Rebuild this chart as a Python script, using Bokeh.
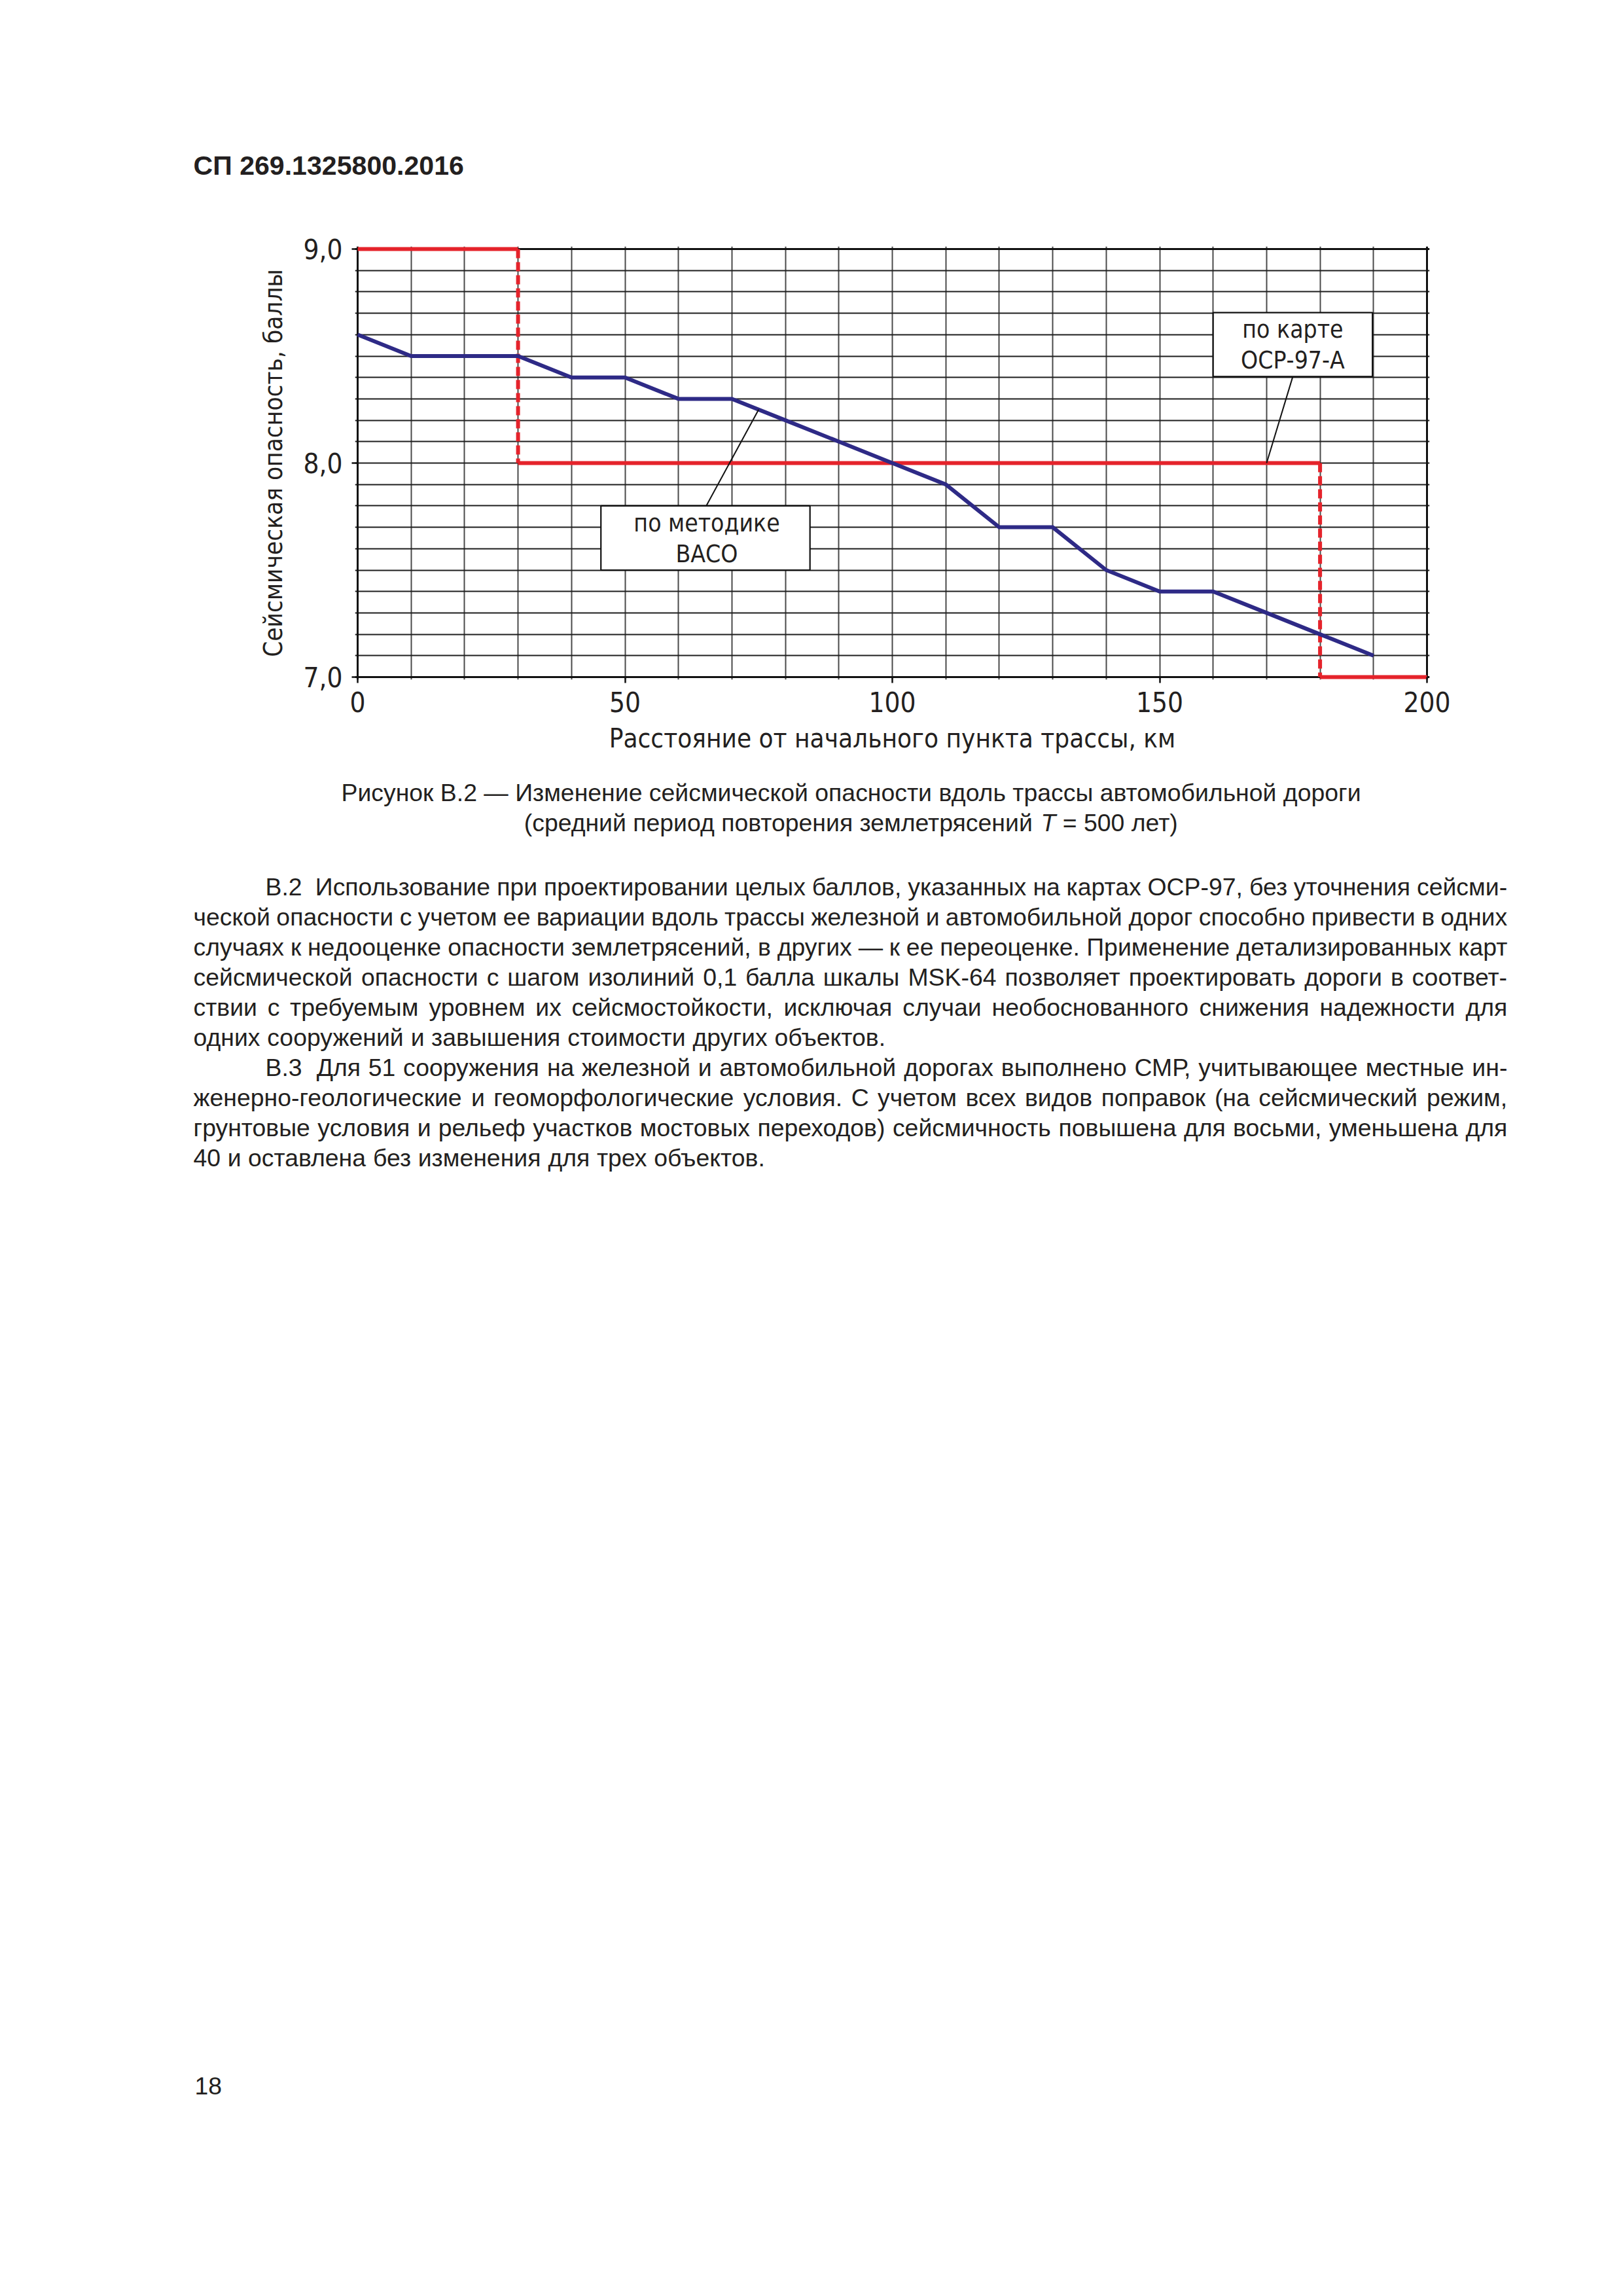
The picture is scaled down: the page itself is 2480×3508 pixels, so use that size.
import subprocess
from bokeh.plotting import figure
from bokeh.layouts import column
from bokeh.models import Range1d, FixedTicker, Grid, CustomJSTickFormatter, ColumnDataSource
from bokeh.core.properties import value
from bokeh.embed import file_html
from bokeh.resources import INLINE

# ---------------- data ----------------
distance_vaco = [0, 10, 20, 30, 40, 50, 60, 70, 80, 90, 100, 110, 120, 130, 140, 150, 160, 170, 180, 190]
hazard_vaco = [8.6, 8.5, 8.5, 8.5, 8.4, 8.4, 8.3, 8.3, 8.2, 8.1, 8.0, 7.9, 7.7, 7.7, 7.5, 7.4, 7.4, 7.3, 7.2, 7.1]
distance_ocr = [0, 30, 30, 180, 180, 200]
hazard_ocr = [9.0, 9.0, 8.0, 8.0, 7.0, 7.0]
x_ticks = [0, 50, 100, 150, 200]
y_ticks = [7.0, 8.0, 9.0]
x_grid_step = 10
y_grid_step = 0.1

x_label = "Расстояние от начального пункта трассы, км"
y_label = "Сейсмическая опасность, баллы"
vaco_label = ["по методике", "ВАСО"]
ocr_label = ["по карте", "ОСР-97-А"]

header = "СП 269.1325800.2016"
caption_1 = "Рисунок В.2 — Изменение сейсмической опасности вдоль трассы автомобильной дороги"
caption_2 = ["(средний период повторения землетрясений", "T", "= 500 лет)"]
paragraphs = [
    ["В.2  Использование при проектировании целых баллов, указанных на картах ОСР-97, без уточнения сейсми-",
     "ческой опасности с учетом ее вариации вдоль трассы железной и автомобильной дорог способно привести в одних",
     "случаях к недооценке опасности землетрясений, в других — к ее переоценке. Применение детализированных карт",
     "сейсмической опасности с шагом изолиний 0,1 балла шкалы MSK-64 позволяет проектировать дороги в соответ-",
     "ствии с требуемым уровнем их сейсмостойкости, исключая случаи необоснованного снижения надежности для",
     "одних сооружений и завышения стоимости других объектов."],
    ["В.3  Для 51 сооружения на железной и автомобильной дорогах выполнено СМР, учитывающее местные ин-",
     "женерно-геологические и геоморфологические условия. С учетом всех видов поправок (на сейсмический режим,",
     "грунтовые условия и рельеф участков мостовых переходов) сейсмичность повышена для восьми, уменьшена для",
     "40 и оставлена без изменения для трех объектов."],
]
page_number = "18"

# ---------------- fonts & measuring ----------------
def fc(pattern):
    try:
        r = subprocess.run(["fc-match", "-f", "%{file}|%{family}", pattern],
                           capture_output=True, text=True, timeout=10)
        f, fam = r.stdout.split("|", 1)
        return f, fam
    except Exception:
        return None, ""

try:
    from PIL import ImageFont
except Exception:
    ImageFont = None

def measure(s, path, size):
    if ImageFont is not None and path:
        try:
            return ImageFont.truetype(path, int(round(size * 4))).getlength(s) / 4.0
        except Exception:
            pass
    return 0.5 * size * len(s)

def fit(s, path, target, base=40.0, lo=20.0, hi=64.0):
    w = measure(s, path, base)
    if w <= 0:
        return base
    return max(lo, min(hi, base * target / w))

SANS = "Liberation Sans"
sans_path, _ = fc("Liberation Sans")
sans_b_path, _ = fc("Liberation Sans:bold")
sans_i_path, _ = fc("Liberation Sans:italic")

nar_path, nar_fam = fc("Liberation Sans Narrow")
if "Narrow" in nar_fam or (nar_path and "Narrow" in nar_path):
    NARROW = "Liberation Sans Narrow"
else:
    nar_path, nar_fam = fc("DejaVu Sans Condensed")
    if "Condensed" in nar_fam or (nar_path and "Condensed" in nar_path):
        NARROW = "DejaVu Sans Condensed"
    else:
        NARROW = SANS
        nar_path = sans_path

INK = "#231f20"

# ---------------- page geometry ----------------
PAGE_W, PAGE_H = 2480, 3508
CHART_TOP, CHART_BOTTOM = 300, 1160
FRAME_L, FRAME_R, FRAME_T, FRAME_B = 546, 2180, 380, 1034
PAD = 4
TEXT_L, TEXT_R, INDENT = 295, 2303, 405

def px(v):
    return "%.1fpx" % v

def text_fig(top, bottom):
    f = figure(width=PAGE_W, height=bottom - top, x_range=Range1d(0, PAGE_W),
               y_range=Range1d(bottom, top), toolbar_location=None, output_backend="svg",
               x_axis_type=None, y_axis_type=None, min_border=0)
    f.frame_align = False
    f.outline_line_color = None
    f.background_fill_color = "white"
    f.border_fill_color = "white"
    return f

# ---------------- header ----------------
top = text_fig(0, CHART_TOP)
hsize = fit(header, sans_b_path, 413)
top.text(x=[TEXT_L], y=[252], text=[header], text_font=value(SANS), text_font_style="bold",
         text_font_size=px(hsize), text_color=INK, text_baseline="alphabetic", text_align="left")

# ---------------- chart ----------------
x_min, x_max = x_ticks[0], x_ticks[-1]
y_min, y_max = y_ticks[0], y_ticks[-1]
pad_x = PAD * (x_max - x_min) / (FRAME_R - FRAME_L)
pad_y = PAD * (y_max - y_min) / (FRAME_B - FRAME_T)

p = figure(width=PAGE_W, height=CHART_BOTTOM - CHART_TOP,
           x_range=Range1d(x_min - pad_x, x_max + pad_x),
           y_range=Range1d(y_min - pad_y, y_max + pad_y),
           toolbar_location=None, output_backend="svg")
p.frame_align = False
p.min_border_left = FRAME_L - PAD
p.min_border_right = PAGE_W - FRAME_R - PAD
p.min_border_top = FRAME_T - PAD - CHART_TOP
p.min_border_bottom = CHART_BOTTOM - FRAME_B - PAD
p.outline_line_color = None
p.background_fill_color = "white"
p.border_fill_color = "white"

nx = int(round((x_max - x_min) / x_grid_step))
ny = int(round((y_max - y_min) / y_grid_step))
inner_x = [x_min + k * x_grid_step for k in range(1, nx)]
inner_y = [round(y_min + k * y_grid_step, 3) for k in range(1, ny)]

p.xgrid.ticker = FixedTicker(ticks=inner_x)
p.xgrid.bounds = (y_min, y_max)
p.xgrid.grid_line_color = "#4a4a4a"
p.xgrid.grid_line_width = 2
p.ygrid.ticker = FixedTicker(ticks=inner_y)
p.ygrid.bounds = (x_min, x_max)
p.ygrid.grid_line_color = "#1e1e1e"
p.ygrid.grid_line_width = 2.2
p.add_layout(Grid(dimension=0, ticker=FixedTicker(ticks=[x_min, x_max]), bounds=(y_min, y_max),
                  grid_line_color="#111111", grid_line_width=3))
p.add_layout(Grid(dimension=1, ticker=FixedTicker(ticks=[y_min, y_max]), bounds=(x_min, x_max),
                  grid_line_color="#111111", grid_line_width=3))

tick_font = px(42)
for ax in (p.xaxis[0], p.yaxis[0]):
    ax.axis_line_color = None
    ax.major_tick_in = PAD
    ax.major_tick_out = 5
    ax.major_tick_line_color = "#111111"
    ax.major_tick_line_width = 2.5
    ax.minor_tick_line_color = None
    ax.major_label_text_font = NARROW
    ax.major_label_text_font_size = tick_font
    ax.major_label_text_color = INK
    ax.axis_label_text_font = NARROW
    ax.axis_label_text_font_style = "normal"
    ax.axis_label_text_color = INK

p.xaxis.ticker = FixedTicker(ticks=x_ticks)
p.xaxis.major_label_standoff = 13
p.xaxis.axis_label = x_label
p.xaxis.axis_label_standoff = 14
p.xaxis.axis_label_text_font_size = px(fit(x_label, nar_path, 866, lo=30, hi=46))

p.yaxis.ticker = FixedTicker(ticks=y_ticks)
p.yaxis.formatter = CustomJSTickFormatter(code="return tick.toFixed(1).replace('.', ',');")
p.yaxis.major_label_standoff = 14
p.yaxis.axis_label = y_label
p.yaxis.axis_label_standoff = 20
p.yaxis.axis_label_text_font_size = px(fit(y_label, nar_path, 592, lo=30, hi=46))

# red (ОСР-97-А): horizontal parts solid, vertical jumps dashed
hx0, hx1, hy0, hy1, vx0, vx1, vy0, vy1 = [], [], [], [], [], [], [], []
for i in range(len(distance_ocr) - 1):
    if distance_ocr[i] == distance_ocr[i + 1]:
        vx0.append(distance_ocr[i]); vx1.append(distance_ocr[i + 1])
        vy0.append(hazard_ocr[i]); vy1.append(hazard_ocr[i + 1])
    else:
        hx0.append(distance_ocr[i]); hx1.append(distance_ocr[i + 1])
        hy0.append(hazard_ocr[i]); hy1.append(hazard_ocr[i + 1])
RED = "#e5232b"
p.segment(x0=hx0, y0=hy0, x1=hx1, y1=hy1, line_color=RED, line_width=6)
p.segment(x0=vx0, y0=vy0, x1=vx1, y1=vy1, line_color=RED, line_width=6, line_dash="14 6")

# blue (ВАСО)
p.line(distance_vaco, hazard_vaco, line_color="#2e2a86", line_width=6, line_join="miter")

# callout boxes (annotation layout, in axis units)
bsize = 37
callouts = [
    dict(l=45.5, r=84.6, b=7.50, t=7.80, tx=65.3, ty=[7.720, 7.575], lab=vaco_label,
         lead=((65.2, 7.80), (75.0, 8.25))),
    dict(l=160.0, r=189.8, b=8.404, t=8.703, tx=174.9, ty=[8.625, 8.480], lab=ocr_label,
         lead=((174.9, 8.404), (170.0, 8.0))),
]
for c in callouts:
    p.segment(x0=[c["lead"][0][0]], y0=[c["lead"][0][1]], x1=[c["lead"][1][0]], y1=[c["lead"][1][1]],
              line_color="#111111", line_width=2)
    p.quad(left=[c["l"]], right=[c["r"]], bottom=[c["b"]], top=[c["t"]],
           fill_color="white", line_color="#111111", line_width=2.2)
    p.text(x=[c["tx"]] * 2, y=c["ty"], text=c["lab"], text_font=value(NARROW),
           text_font_size=px(bsize), text_color=INK, text_align="center", text_baseline="alphabetic")

# ---------------- caption, body, page number ----------------
bot = text_fig(CHART_BOTTOM, PAGE_H)

csize = fit(caption_1, sans_path, 1559, lo=28, hi=42)
cap_y1, cap_y2 = 1210, 1256
bot.text(x=[1300], y=[cap_y1], text=[caption_1], text_font=value(SANS), text_font_size=px(csize),
         text_color=INK, text_align="center", text_baseline="alphabetic")
sp = measure(" ", sans_path, csize)
wa = measure(caption_2[0], sans_path, csize)
wt = measure(caption_2[1], sans_i_path, csize)
wb = measure(caption_2[2], sans_path, csize)
x0 = 1300 - (wa + sp + wt + sp + wb) / 2.0
bot.text(x=[x0, x0 + wa + sp + wt + sp], y=[cap_y2, cap_y2], text=[caption_2[0], caption_2[2]],
         text_font=value(SANS), text_font_size=px(csize), text_color=INK, text_align="left",
         text_baseline="alphabetic")
bot.text(x=[x0 + wa + sp], y=[cap_y2], text=[caption_2[1]], text_font=value(SANS), text_font_style="italic",
         text_font_size=px(csize), text_color=INK, text_align="left", text_baseline="alphabetic")

s1 = fit(paragraphs[0][-1], sans_path, 1056, lo=28, hi=42)
s2 = fit(paragraphs[1][-1], sans_path, 872, lo=28, hi=42)
bsz = (s1 + s2) / 2.0
words_x, words_y, words_t = [], [], []
baseline = 1354
LEAD = 46
for para in paragraphs:
    for li, line in enumerate(para):
        left = INDENT if li == 0 else TEXT_L
        words = line.split()
        last = li == len(para) - 1
        widths = [measure(w, sans_path, bsz) for w in words]
        space = measure(" ", sans_path, bsz)
        extra = [0.0] * len(words)
        if li == 0:
            extra[0] = space  # double space after the clause number
        if last or len(words) < 2:
            gap = space
        else:
            gap = (TEXT_R - left - sum(widths) - sum(extra)) / (len(words) - 1)
        x = left
        for w, ww, ex in zip(words, widths, extra):
            words_x.append(x); words_y.append(baseline); words_t.append(w)
            x += ww + gap + ex
        baseline += LEAD
src = ColumnDataSource(dict(x=words_x, y=words_y, text=words_t))
bot.text(x="x", y="y", text="text", source=src, text_font=value(SANS), text_font_size=px(bsz),
         text_color=INK, text_align="left", text_baseline="alphabetic")

bot.text(x=[297], y=[3186], text=[page_number], text_font=value(SANS), text_font_size=px(bsz),
         text_color=INK, text_align="left", text_baseline="alphabetic")

page = column(top, p, bot, spacing=0)
open("out.html", "w").write(file_html(page, INLINE))
